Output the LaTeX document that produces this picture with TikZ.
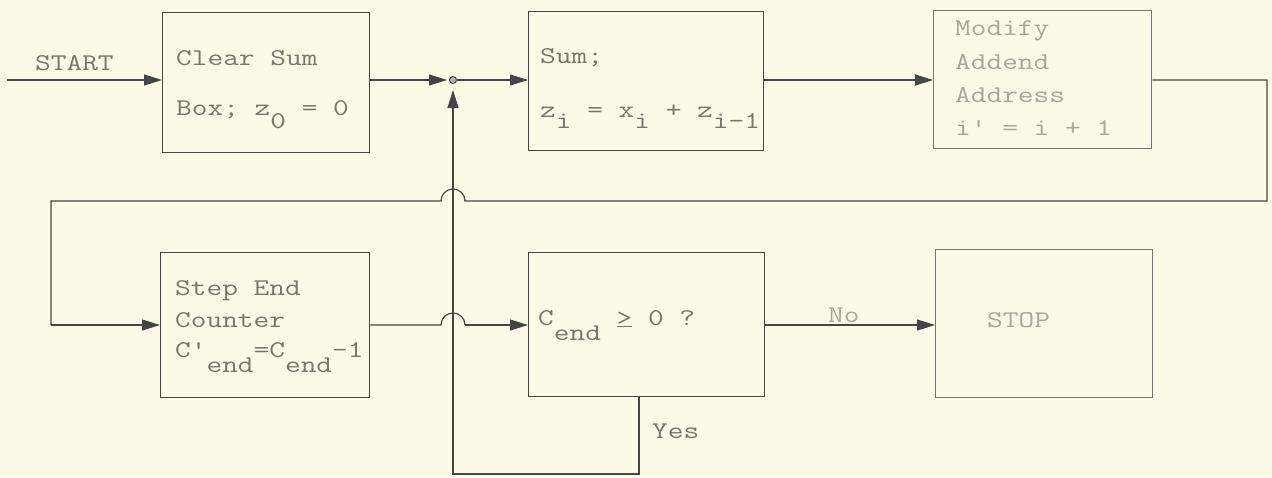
\documentclass[tikz,border=0pt]{standalone}
\usepackage{fontspec}
\usetikzlibrary{arrows.meta}
\definecolor{paper}{HTML}{FCFAE6}
\definecolor{ink}{HTML}{454545}
\definecolor{txt}{HTML}{76766E}
\definecolor{faint}{HTML}{A6A69E}
\newcommand{\lowtxt}[2][12pt]{\raisebox{-#1}{#2}}
\newcommand{\tw}[1]{\scalebox{1.27}[1]{#1}}
\begin{document}
\begin{tikzpicture}[x=1pt,y=-1pt,
  flowbox/.style={draw=ink, line width=1.3pt, inner sep=0pt, anchor=north west},
  fadedbox/.style={flowbox, draw=ink!75},
  lbl/.style={anchor=base west, inner sep=0pt, text=txt, font=\ttfamily\fontsize{24}{28}\selectfont},
  fadedlbl/.style={lbl, text=faint},
  conn/.style={draw=ink, line width=1.2pt},
  arr/.style={conn, -{Triangle[length=18pt,width=11pt]}}]
\fill[paper] (0,0) rectangle (1272,477);
\useasboundingbox (0,0) rectangle (1272,477);

% boxes
\node[flowbox, minimum width=207pt, minimum height=140pt] (clear) at (162,12) {};
\node[flowbox, minimum width=235pt, minimum height=139pt] (sum) at (528,11) {};
\node[fadedbox, minimum width=218pt, minimum height=138pt] (modify) at (933,10) {};
\node[flowbox, minimum width=209pt, minimum height=145pt] (stepc) at (160,252) {};
\node[flowbox, minimum width=236pt, minimum height=144pt] (test) at (528,252) {};
\node[fadedbox, minimum width=217pt, minimum height=148pt] (stop) at (935,249) {};

% texts
\node[lbl] (tstart) at (35,70) {\tw{START}};
\node[lbl] (tclear1) at (176,65) {\tw{Clear Sum}};
\node[lbl] (tclear2) at (176,115) {\tw{Box; z\lowtxt[13pt]{0} = 0}};
\node[lbl] (tsum1) at (540,63) {\tw{Sum;}};
\node[lbl] (tsum2) at (540,117) {\tw{z\lowtxt[11pt]{i} = x\lowtxt[11pt]{i} + z\lowtxt[11pt]{i-1}}};
\node[fadedlbl] (tmod1) at (955,35) {\tw{Modify}};
\node[fadedlbl] (tmod2) at (955,69) {\tw{Addend}};
\node[fadedlbl] (tmod3) at (955,102) {\tw{Address}};
\node[fadedlbl] (tmod4) at (955,135) {\tw{i' = i + 1}};
\node[lbl] (tstep1) at (175,295) {\tw{Step End}};
\node[lbl] (tstep2) at (175,327) {\tw{Counter}};
\node[lbl] (tstep3) at (175,357) {\tw{C'\lowtxt[15pt]{end}=C\lowtxt[15pt]{end}-1}};
\node[lbl] (ttest) at (538,325) {\tw{C\lowtxt[15pt]{end} \underline{>} 0 ?}};
\node[fadedlbl] (tstop) at (987,327) {\tw{STOP}};
\node[fadedlbl] (tno) at (828,322) {\tw{No}};
\node[lbl] (tyes) at (652,438) {\tw{Yes}};

% junction
\node[circle, draw=ink, fill=ink!40, line width=1pt, inner sep=0pt, minimum size=7pt] (jn) at (453,80) {};

% coordinates
\coordinate (startpt) at (7,80);
\coordinate (rtop) at (1267,80);
\coordinate (rbot) at (1267,201);
\coordinate (lcorner) at (51,201);
\coordinate (lbot) at (51,325);
\coordinate (ybot) at (639,474);
\coordinate (yleft) at (453,474);

% connectors
\draw[arr] (startpt) -- (startpt -| clear.west);
\draw[arr, shorten >=2pt] (clear.east |- jn) -- (jn);
\draw[arr] (jn) -- (jn -| sum.west);
\draw[arr] (sum.east |- jn) -- (jn -| modify.west);
\draw[conn] (modify.east |- rtop) -- (rtop) -- (rbot) -- (465,201) arc[start angle=0, end angle=-180, radius=12] -- (lcorner) -- (lbot);
\draw[arr] (lbot) -- (lbot -| stepc.west);
\draw[conn] (stepc.east |- lbot) -- (441,325) arc[start angle=180, end angle=360, radius=12] -- (465,325);
\draw[arr] (465,325) -- (lbot -| test.west);
\draw[arr] (test.east |- lbot) -- (lbot -| stop.west);
\draw[conn] (test.south -| ybot) -- (ybot) -- (yleft) -- (jn |- 140,140);
\draw[arr, shorten >=6pt] (jn |- 140,140) -- (jn);
\end{tikzpicture}
\end{document}
